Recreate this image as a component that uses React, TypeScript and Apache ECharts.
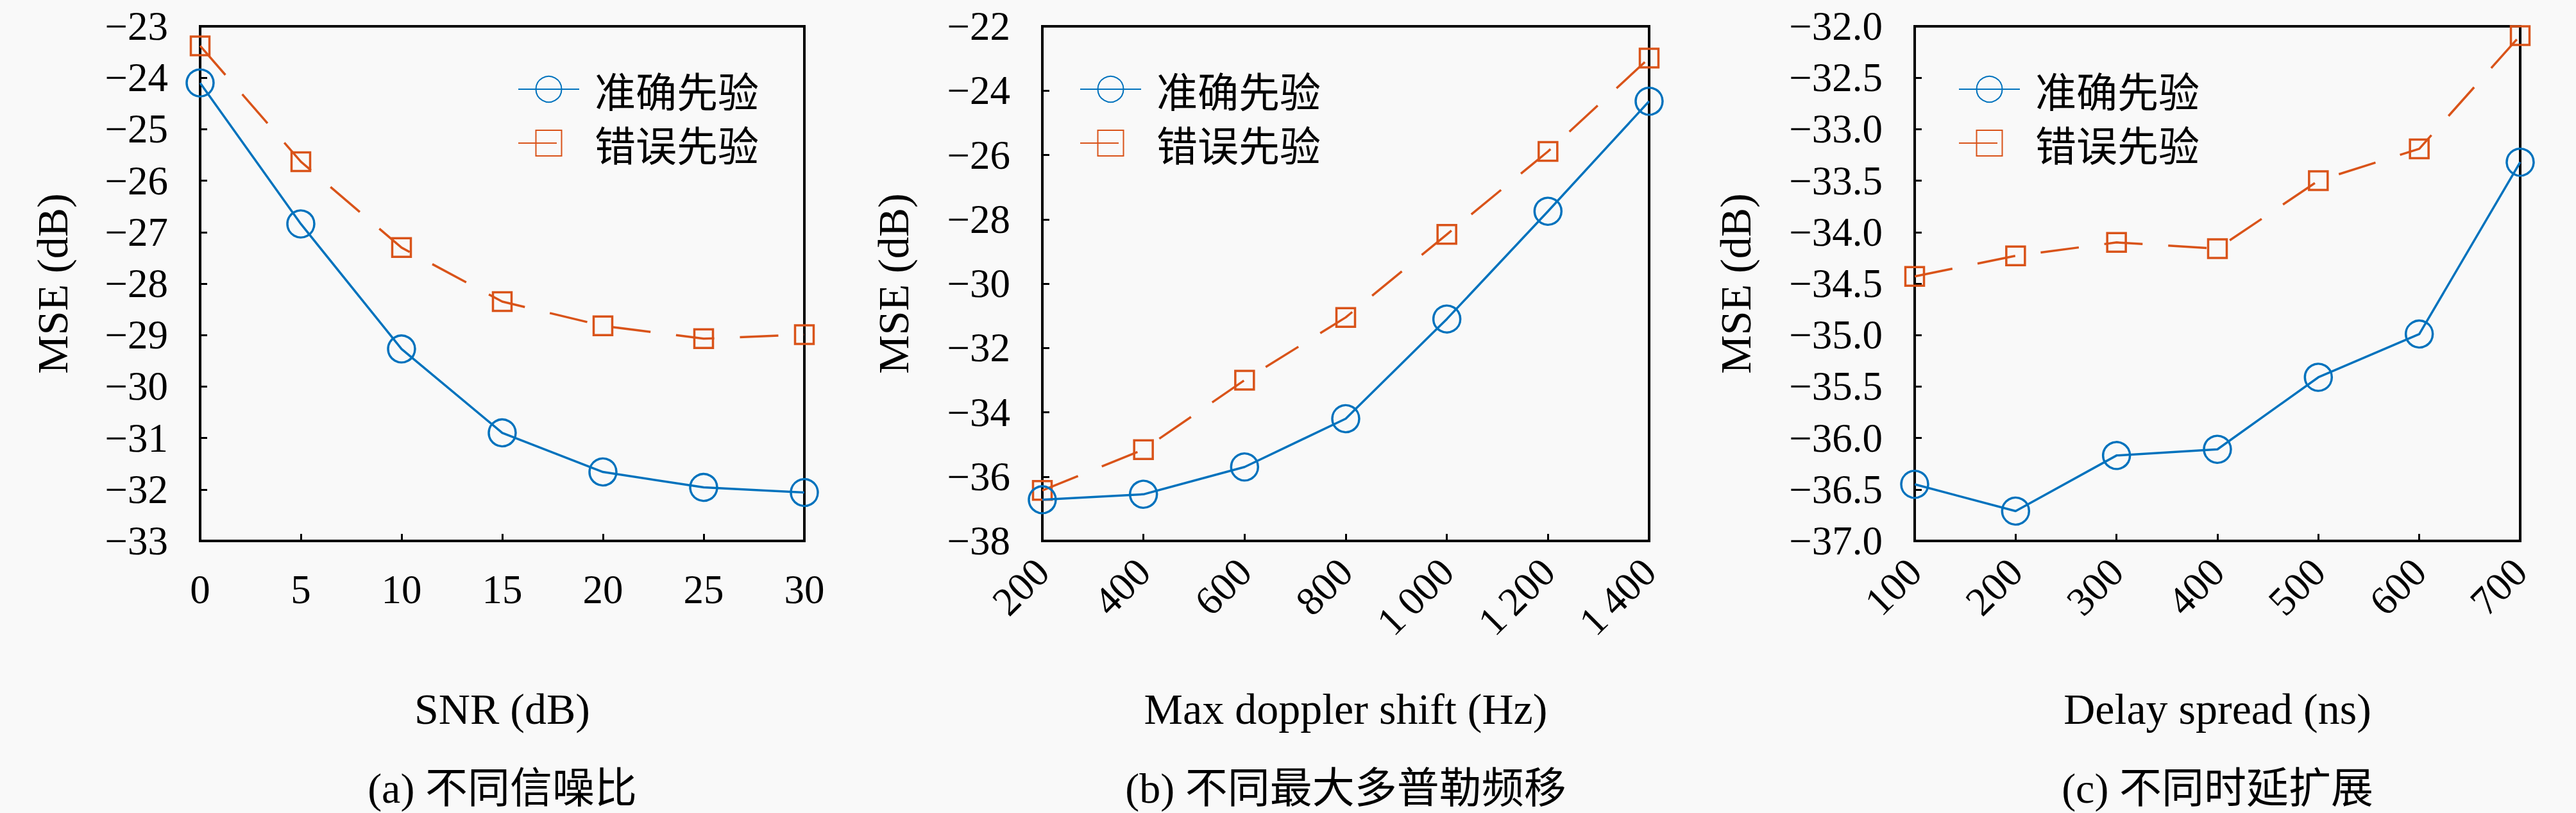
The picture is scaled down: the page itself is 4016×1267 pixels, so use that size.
import React, { useEffect, useRef } from 'react';
import * as echarts from 'echarts';

const W = 4016;
const H = 1267;

const SERIES_NAMES = ['准确先验', '错误先验'];

const SNR = [0, 5, 10, 15, 20, 25, 30];
const SNR_EXACT = [-24.1, -26.84, -29.27, -30.9, -31.66, -31.96, -32.06];
const SNR_WRONG = [-23.38, -25.63, -27.3, -28.35, -28.82, -29.07, -28.99];

const DOPPLER = [200, 400, 600, 800, 1000, 1200, 1400];
const DOP_EXACT = [-36.72, -36.55, -35.7, -34.2, -31.1, -27.75, -24.33];
const DOP_WRONG = [-36.43, -35.16, -33.0, -31.05, -28.47, -25.89, -22.99];

const DELAY = [100, 200, 300, 400, 500, 600, 700];
const DEL_EXACT = [-36.45, -36.71, -36.17, -36.11, -35.41, -34.99, -33.32];
const DEL_WRONG = [-34.43, -34.23, -34.1, -34.16, -33.5, -33.19, -32.09];

const X_NAMES = ['SNR (dB)', 'Max doppler shift (Hz)', 'Delay spread (ns)'];
const Y_NAME = 'MSE (dB)';
const CAPTIONS = ['(a) 不同信噪比', '(b) 不同最大多普勒频移', '(c) 不同时延扩展'];

const BLUE = '#0072BD';
const ORANGE = '#D95319';
const SERIF = '"Liberation Serif", "Times New Roman", serif';
const CJK = '"Noto Sans CJK SC", sans-serif';
const MIXED = '"Liberation Serif", "Noto Sans CJK SC", serif';

function signed(v: number, d: number): string {
  const s = Math.abs(v).toFixed(d);
  return v < 0 ? '\u2212' + s : s;
}
function thousands(v: number): string {
  if (v >= 1000) {
    const t = Math.floor(v / 1000);
    const r = String(v % 1000).padStart(3, '0');
    return t + '\u2009' + r;
  }
  return String(v);
}

const PANELS = [
  {
    x: SNR, exact: SNR_EXACT, wrong: SNR_WRONG,
    left: 312, width: 942,
    xmin: 0, xmax: 30, xint: 5, ymin: -33, ymax: -23, yint: 1, ydec: 0,
    rotate: 0, xfmt: (v: number) => String(v), xMargin: 44,
    yNameGap: 196, legendLeft: 802,
  },
  {
    x: DOPPLER, exact: DOP_EXACT, wrong: DOP_WRONG,
    left: 1625, width: 946,
    xmin: 200, xmax: 1400, xint: 200, ymin: -38, ymax: -22, yint: 2, ydec: 0,
    rotate: 45, xfmt: thousands, xMargin: 38,
    yNameGap: 198, legendLeft: 1678,
  },
  {
    x: DELAY, exact: DEL_EXACT, wrong: DEL_WRONG,
    left: 2985, width: 944,
    xmin: 100, xmax: 700, xint: 100, ymin: -37, ymax: -32, yint: 0.5, ydec: 1,
    rotate: 45, xfmt: (v: number) => String(v), xMargin: 38,
    yNameGap: 245, legendLeft: 3048,
  },
];

const TOP = 41;
const HEIGHT = 802;

export default function App() {
  const ref = useRef<HTMLDivElement>(null);
  useEffect(() => {
    document.body.style.margin = '0';
    const chart = echarts.init(ref.current!, undefined, { renderer: 'svg', width: W, height: H });
    const grid: any[] = [];
    const xAxis: any[] = [];
    const yAxis: any[] = [];
    const series: any[] = [];
    const legend: any[] = [];
    const graphic: any[] = [];
    PANELS.forEach((p, i) => {
      grid.push({
        left: p.left, top: TOP, width: p.width, height: HEIGHT,
        show: true, borderColor: '#000', borderWidth: 4, backgroundColor: 'transparent',
      });
      xAxis.push({
        type: 'value', gridIndex: i, min: p.xmin, max: p.xmax, interval: p.xint,
        name: X_NAMES[i], nameLocation: 'middle', nameGap: 228,
        nameTextStyle: { fontFamily: SERIF, fontSize: 68, color: '#000' },
        axisLine: { show: true, onZero: false, lineStyle: { color: '#000', width: 4 } },
        axisTick: { show: true, inside: true, length: 11, lineStyle: { color: '#000', width: 3 } },
        axisLabel: {
          fontFamily: SERIF, fontSize: 63, color: '#000', margin: p.xMargin,
          rotate: p.rotate, formatter: p.xfmt, showMinLabel: true, showMaxLabel: true,
        },
        splitLine: { show: false },
      });
      yAxis.push({
        type: 'value', gridIndex: i, min: p.ymin, max: p.ymax, interval: p.yint,
        name: Y_NAME, nameLocation: 'middle', nameGap: p.yNameGap,
        nameTextStyle: { fontFamily: SERIF, fontSize: 68, color: '#000' },
        axisLine: { show: true, onZero: false, lineStyle: { color: '#000', width: 4 } },
        axisTick: { show: true, inside: true, length: 11, lineStyle: { color: '#000', width: 3 } },
        axisLabel: {
          fontFamily: SERIF, fontSize: 63, color: '#000', margin: 50,
          formatter: (v: number) => signed(v, p.ydec), showMinLabel: true, showMaxLabel: true,
        },
        splitLine: { show: false },
      });
      series.push({
        type: 'line', name: SERIES_NAMES[1], xAxisIndex: i, yAxisIndex: i,
        data: p.x.map((xv, k) => [xv, p.wrong[k]]),
        symbol: 'rect', symbolSize: 29, clip: false,
        lineStyle: { color: ORANGE, width: 3.5, type: [60, 40] },
        itemStyle: { color: 'transparent', borderColor: ORANGE, borderWidth: 3.5 },
        z: 2,
      });
      series.push({
        type: 'line', name: SERIES_NAMES[0], xAxisIndex: i, yAxisIndex: i,
        data: p.x.map((xv, k) => [xv, p.exact[k]]),
        symbol: 'circle', symbolSize: 42, clip: false,
        lineStyle: { color: BLUE, width: 3.5, type: 'solid' },
        itemStyle: { color: 'transparent', borderColor: BLUE, borderWidth: 3.5 },
        z: 3,
      });
      legend.push({
        left: p.legendLeft, top: 102, orient: 'vertical',
        itemWidth: 95, itemHeight: 50, itemGap: 20,
        selectedMode: false,
        data: SERIES_NAMES,
        textStyle: { fontFamily: CJK, fontSize: 64, color: '#000', padding: [0, 0, 0, 19] },
      });
      graphic.push({
        type: 'text', x: p.left + p.width / 2, y: 1228,
        style: {
          text: CAPTIONS[i], font: `66px ${MIXED}`, fill: '#000',
          align: 'center', verticalAlign: 'middle',
        },
      });
    });
    chart.setOption({
      animation: false,
      backgroundColor: '#f9f9f9',
      grid, xAxis, yAxis, series, legend, graphic,
    });
    return () => chart.dispose();
  }, []);
  return <div ref={ref} style={{ position: 'absolute', left: 0, top: 0, width: W, height: H }} />;
}
